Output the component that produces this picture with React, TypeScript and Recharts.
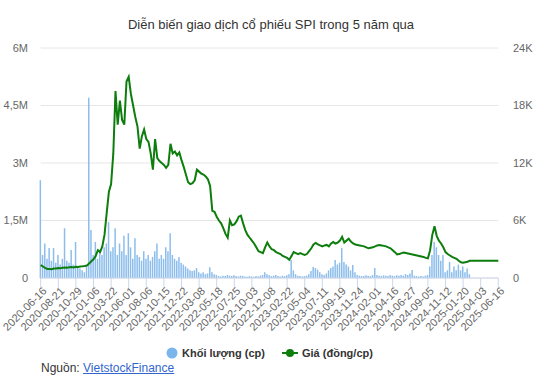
import React from "react";
import { ComposedChart, Bar, Line, XAxis, YAxis, CartesianGrid } from "recharts";

const tickLabels = [
  "2020-06-16", "2020-08-21", "2020-10-29", "2021-01-06", "2021-03-22", "2021-06-01",
  "2021-08-06", "2021-10-15", "2021-12-22", "2022-03-08", "2022-05-18", "2022-07-25",
  "2022-10-03", "2022-12-08", "2023-02-22", "2023-05-04", "2023-07-11", "2023-09-19",
  "2023-11-24", "2024-02-01", "2024-04-16", "2024-06-27", "2024-09-05", "2024-11-12",
  "2025-01-20", "2025-04-03", "2025-06-16",
];
const pointsPerTick = 8;

// Giá (đồng/cp)
const price = [
  1350, 1200, 1050, 950, 950, 920, 980, 1000,
  1050, 1020, 1080, 1100, 1060, 1120, 1150, 1100,
  1180, 1150, 1200, 1220, 1250, 1300, 1500, 1750,
  1950, 2300, 2900, 2700, 3300, 4500, 6800, 9000,
  9800, 13000, 19500, 16000, 18500, 16500, 16000, 20500,
  21000, 19200, 18000, 16800, 15800, 13500, 14800, 15500,
  14500, 14200, 13000, 11300, 14500, 12500, 12200, 12000,
  11800, 11500, 11800, 14000, 13000, 13200, 12800, 13100,
  12300, 11600, 10800, 10000, 9800, 9900, 10200, 11300,
  11100, 10900, 10800, 10600, 10300, 9600, 7000, 6900,
  6400, 6000, 5700, 5200, 4600, 4200, 6000, 5500,
  5600, 5900, 6400, 6500, 5700, 5000, 4500, 4200,
  3900, 3600, 3200, 2800, 2700, 2600, 3200, 3700,
  3300, 3000, 2900, 2700, 2600, 2500, 2300, 2200,
  2100, 1900, 2300, 2700, 2600, 2500, 2600, 2500,
  2400, 2500, 2800, 3100, 3500, 3650, 3500, 3400,
  3300, 3400, 3450, 3300, 3600, 3750, 3600, 3700,
  3900, 4300, 3700, 3900, 4100, 3800, 3600, 3500,
  3450, 3400, 3350, 3300, 3200, 3100, 3150, 3200,
  3300, 3400, 3450, 3400, 3350, 3300, 3200, 3100,
  2900, 2700, 2450, 2500, 2600, 2650, 2600, 2550,
  2500, 2450, 2400, 2350, 2300, 2250, 2200, 2100,
  2050, 2900, 4500, 5400, 4400, 3900, 3600, 3200,
  2700, 2500, 2350, 2200, 2100, 2000, 1800, 1650,
  1600, 1650, 1700, 1800, 1800, 1800, 1800, 1800,
  1800, 1800, 1800, 1800, 1800, 1800, 1800, 1800,
  1800,
];

// Khối lượng (triệu cp)
const volume = [
  2.55, 0.6, 0.9, 0.5, 0.78, 0.45, 0.78, 0.4,
  0.6, 0.35, 0.5, 1.3, 0.45, 0.4, 0.73, 0.35,
  0.94, 0.3, 0.25, 0.2, 0.15, 0.3, 4.7, 1.25,
  0.6, 0.94, 0.5, 0.73, 0.6, 0.8, 0.9, 1.46,
  0.7, 0.8, 1.3, 0.6, 0.9, 0.7, 1.1, 0.6,
  1.17, 0.8, 0.5, 1.04, 0.6, 0.55, 0.45, 0.7,
  0.5, 0.6, 0.45, 0.55, 0.7, 0.9, 0.5, 0.6,
  0.5, 0.8, 0.7, 1.17, 0.6, 0.5, 0.45, 0.55,
  0.4, 0.35, 0.3, 0.25, 0.2, 0.18, 0.2, 0.26,
  0.15, 0.12, 0.15, 0.1, 0.12, 0.28, 0.15, 0.1,
  0.08, 0.05, 0.04, 0.06, 0.05, 0.08, 0.06, 0.05,
  0.07, 0.05, 0.04, 0.06, 0.05, 0.04, 0.03, 0.05,
  0.04, 0.03, 0.05, 0.04, 0.06, 0.08, 0.15, 0.1,
  0.07, 0.05, 0.06, 0.08, 0.05, 0.04, 0.06, 0.05,
  0.07, 0.1, 0.47, 0.2, 0.1, 0.06, 0.05, 0.04,
  0.05, 0.06, 0.1, 0.18, 0.29, 0.26, 0.22, 0.15,
  0.1, 0.08, 0.12, 0.2, 0.26, 0.3, 0.47, 0.35,
  0.4, 0.78, 0.42, 0.35, 0.3, 0.2, 0.34, 0.15,
  0.08, 0.06, 0.05, 0.05, 0.07, 0.06, 0.05, 0.08,
  0.26, 0.08, 0.06, 0.05, 0.07, 0.06, 0.05, 0.08,
  0.06, 0.05, 0.07, 0.06, 0.08, 0.06, 0.1, 0.08,
  0.12, 0.21, 0.06, 0.05, 0.04, 0.05, 0.04, 0.06,
  0.08, 0.3, 0.6, 0.94, 0.8, 0.6, 0.45, 0.6,
  0.15, 0.2, 0.42, 0.15, 0.3, 0.2, 0.35, 0.2,
  0.3, 0.15, 0.25, 0.1, 0, 0, 0, 0,
  0, 0, 0, 0, 0, 0, 0, 0,
  0,
];

const volTicks = [0, 1.5, 3, 4.5, 6];
const volTickLabels = ["0", "1,5M", "3M", "4,5M", "6M"];
const priceTicks = [0, 6000, 12000, 18000, 24000];
const priceTickLabels = ["0", "6K", "12K", "18K", "24K"];

const data = price.map((p, i) => ({ i, price: p, vol: volume[i] }));
const xTicks = tickLabels.map((_, k) => k * pointsPerTick);

const FONT = '"Liberation Sans", Arial, sans-serif';

const XTick = (props: any) => {
  const { x, payload } = props;
  const label = tickLabels[Math.round(payload.value / pointsPerTick)];
  const tx = x + 4;
  const ty = 289;
  return (
    <text x={tx} y={ty} transform={`rotate(-45, ${tx}, ${ty})`} textAnchor="end" fontSize={11} fill="#666666" fontFamily={FONT} dy="0.35em">
      {label}
    </text>
  );
};

const LeftTick = (props: any) => {
  const { y, payload } = props;
  const idx = volTicks.indexOf(payload.value);
  return (
    <text x={28} y={y} textAnchor="end" fontSize={11} fill="#666666" fontFamily={FONT} dy="0.35em">
      {volTickLabels[idx]}
    </text>
  );
};

const RightTick = (props: any) => {
  const { y, payload } = props;
  const idx = priceTicks.indexOf(payload.value);
  return (
    <text x={513} y={y} textAnchor="start" fontSize={11} fill="#666666" fontFamily={FONT} dy="0.35em">
      {priceTickLabels[idx]}
    </text>
  );
};

export default function App() {
  return (
    <div style={{ position: "absolute", left: 0, top: 0, width: 542, height: 392, background: "#ffffff", fontFamily: FONT, overflow: "hidden" }}>
      <div style={{ position: "absolute", left: 0, top: 16, width: 542, textAlign: "center", fontSize: 13, lineHeight: "18px", color: "#333333" }}>
        Diễn biến giao dịch cổ phiếu SPI trong 5 năm qua
      </div>
      <div style={{ position: "absolute", left: 0, top: 0 }}>
        <ComposedChart width={542} height={340} data={data} margin={{ top: 48, right: 0, bottom: 0, left: 0 }}>
          <CartesianGrid yAxisId="vol" vertical={false} stroke="#e6e6e6" />
          <XAxis
            dataKey="i"
            type="number"
            domain={[0, price.length - 1]}
            ticks={xTicks}
            interval={0}
            height={62}
            tick={<XTick />}
            tickSize={10}
            tickLine={{ stroke: "#ccd6eb" }}
            axisLine={{ stroke: "#ccd6eb" }}
          />
          <YAxis
            yAxisId="vol"
            orientation="left"
            width={40.7}
            domain={[0, 6]}
            ticks={volTicks}
            tick={<LeftTick />}
            tickLine={false}
            axisLine={false}
          />
          <YAxis
            yAxisId="price"
            orientation="right"
            width={43.7}
            domain={[0, 24000]}
            ticks={priceTicks}
            tick={<RightTick />}
            tickLine={false}
            axisLine={false}
          />
          <Bar yAxisId="vol" dataKey="vol" fill="#8cbdec" barSize={1.5} isAnimationActive={false} />
          <Line yAxisId="price" dataKey="price" type="linear" stroke="#0d7d0d" strokeWidth={2} dot={false} isAnimationActive={false} />
        </ComposedChart>
      </div>
      <svg style={{ position: "absolute", left: 0, top: 343 }} width={542} height={22}>
        <circle cx={172} cy={10} r={5.5} fill="#7cb5ec" />
        <text x={182} y={10} dy="0.35em" fontSize={11} fontWeight="bold" fill="#333333" fontFamily={FONT}>Khối lượng (cp)</text>
        <line x1={282} y1={10} x2={298} y2={10} stroke="#0d7d0d" strokeWidth={2} />
        <circle cx={290} cy={10} r={4} fill="#0d7d0d" />
        <text x={302} y={10} dy="0.35em" fontSize={11} fontWeight="bold" fill="#333333" fontFamily={FONT}>Giá (đồng/cp)</text>
      </svg>
      <div style={{ position: "absolute", left: 41, top: 360, fontSize: 12, lineHeight: "16px", color: "#333333" }}>
        Nguồn: <span style={{ color: "#3366cc", textDecoration: "underline" }}>VietstockFinance</span>
      </div>
    </div>
  );
}
